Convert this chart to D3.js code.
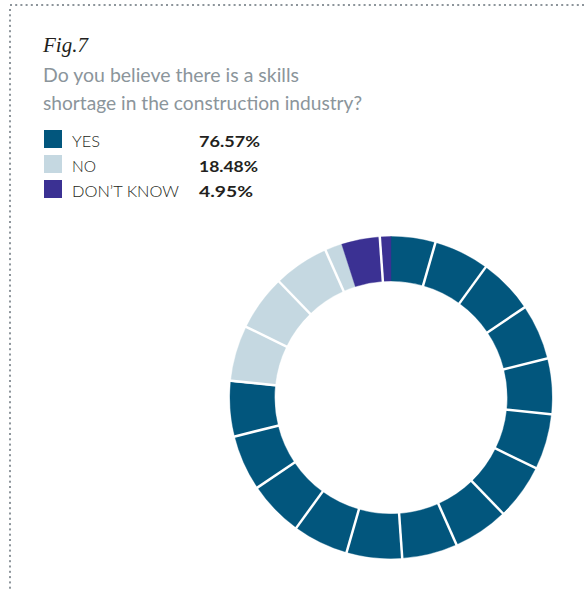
<!DOCTYPE html>
<html>
<head>
<meta charset="utf-8">
<script src="https://cdn.jsdelivr.net/npm/d3@7"></script>
<style>
  html, body { margin: 0; padding: 0; background: #fff; }
  svg { display: block; }
</style>
</head>
<body>
<svg id="chart" width="586" height="591"></svg>
<script>
// Survey answers (percent of respondents)
const categories = ["YES", "NO", "DON\u2019T KNOW"];
const values = [76.57, 18.48, 4.95];
const valueLabels = ["76.57%", "18.48%", "4.95%"];
const colors = ["#02567d", "#c5d8e1", "#3b3193"];

// Ring is cut into equal blocks separated by thin white gaps
const blockCount = 18;
const blockOffsetDeg = -4;

const figLabel = "Fig.7";
const titleLines = ["Do you believe there is a skills", "shortage in the construction industry?"];

const W = 586, H = 591;
const svg = d3.select("#chart");

// dotted frame on the top and left
const frame = svg.append("g").attr("fill", "#8d959b");
frame.selectAll("rect.top")
  .data(d3.range(10, 584, 5.2))
  .join("rect")
  .attr("x", d => d).attr("y", 4).attr("width", 2).attr("height", 2);
frame.selectAll("rect.left")
  .data(d3.range(9, 591, 5.3))
  .join("rect")
  .attr("x", 9).attr("y", d => d).attr("width", 2).attr("height", 2);

// heading
svg.append("text")
  .attr("x", 43).attr("y", 52)
  .attr("font-family", "'Liberation Serif', 'DejaVu Serif', serif")
  .attr("font-style", "italic")
  .attr("font-size", 21)
  .attr("fill", "#231f20")
  .text(figLabel);

const titleWidths = [256, 319];
svg.selectAll("text.title")
  .data(titleLines)
  .join("text")
  .attr("class", "title")
  .attr("x", 43)
  .attr("y", (d, i) => 82 + i * 28)
  .attr("font-family", "Lato, 'Open Sans', sans-serif")
  .attr("font-size", 19.5)
  .attr("fill", "#8b959b")
  .attr("textLength", (d, i) => titleWidths[i])
  .attr("lengthAdjust", "spacingAndGlyphs")
  .text(d => d);

// legend
const legend = svg.append("g");
const rowY = d3.scaleBand().domain(categories).range([130, 205]).paddingInner(0);
const rows = legend.selectAll("g.row")
  .data(categories)
  .join("g")
  .attr("class", "row")
  .attr("transform", d => `translate(0,${rowY(d)})`);
rows.append("rect")
  .attr("x", 44).attr("y", 0).attr("width", 18).attr("height", 18)
  .attr("fill", (d, i) => colors[i]);
const labelWidths = [28, 24, 107];
rows.append("text")
  .attr("x", 72).attr("y", 16.5)
  .attr("font-family", "Lato, 'Open Sans', sans-serif")
  .attr("font-weight", 300)
  .attr("font-size", 16)
  .attr("fill", "#231f20")
  .attr("textLength", (d, i) => labelWidths[i])
  .attr("lengthAdjust", "spacingAndGlyphs")
  .text(d => d);
const valueWidths = [61, 59, 54];
rows.append("text")
  .attr("x", 199).attr("y", 16.5)
  .attr("font-family", "Lato, 'Open Sans', sans-serif")
  .attr("font-weight", 700)
  .attr("font-size", 16)
  .attr("fill", "#231f20")
  .attr("textLength", (d, i) => valueWidths[i])
  .attr("lengthAdjust", "spacingAndGlyphs")
  .text((d, i) => valueLabels[i]);

// donut
const cx = 391, cy = 397.5, outerR = 161, innerR = 116.5;
const ring = svg.append("g").attr("transform", `translate(${cx},${cy})`);

const pie = d3.pie().sort(null).value(d => d.value).startAngle(0).endAngle(2 * Math.PI);
const slices = pie(categories.map((c, i) => ({ cat: c, value: values[i], color: colors[i] })));

const toRad = d => d * Math.PI / 180;
const blockScale = d3.scaleLinear().domain([0, blockCount]).range([toRad(blockOffsetDeg), toRad(blockOffsetDeg + 360)]);
const blocks = d3.range(blockCount).map(k => [blockScale(k), blockScale(k + 1)]);

// colour each block by the slices it overlaps
const pieces = [];
blocks.forEach(([b0, b1]) => {
  slices.forEach(s => {
    [0, -2 * Math.PI, 2 * Math.PI].forEach(shift => {
      const a0 = Math.max(b0, s.startAngle + shift);
      const a1 = Math.min(b1, s.endAngle + shift);
      if (a1 > a0) pieces.push({ startAngle: a0, endAngle: a1, color: s.data.color });
    });
  });
});

const arc = d3.arc().innerRadius(innerR).outerRadius(outerR);
ring.selectAll("path.piece")
  .data(pieces)
  .join("path")
  .attr("class", "piece")
  .attr("d", arc)
  .attr("fill", d => d.color)
  .attr("stroke", d => d.color)
  .attr("stroke-width", 0.4);

// white gaps between blocks
ring.selectAll("line.gap")
  .data(blocks.map(b => b[0]))
  .join("line")
  .attr("class", "gap")
  .attr("x1", a => (innerR - 2) * Math.sin(a))
  .attr("y1", a => -(innerR - 2) * Math.cos(a))
  .attr("x2", a => (outerR + 2) * Math.sin(a))
  .attr("y2", a => -(outerR + 2) * Math.cos(a))
  .attr("stroke", "#fff")
  .attr("stroke-width", 2.5);
</script>
</body>
</html>
